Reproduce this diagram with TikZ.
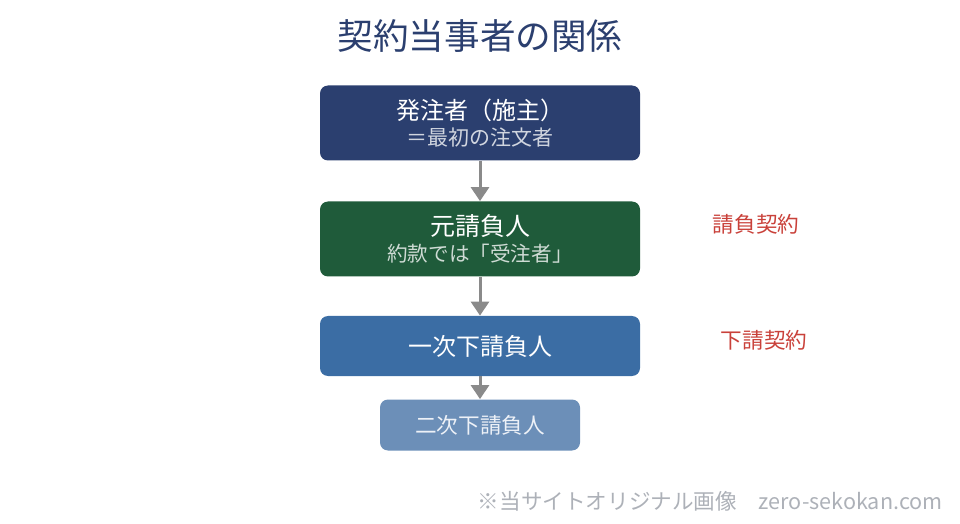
\documentclass[tikz,border=0pt]{standalone}
\usepackage{fontspec}
\setmainfont{Noto Sans CJK JP}
\usetikzlibrary{arrows.meta,positioning}

\definecolor{navy}{HTML}{2B3F6F}
\definecolor{forest}{HTML}{1F5B3A}
\definecolor{steel}{HTML}{3B6DA4}
\definecolor{pale}{HTML}{6C8FB8}
\definecolor{flow}{HTML}{8A8A8A}
\definecolor{contract}{HTML}{C9413A}
\definecolor{credit}{HTML}{ADB1B8}

\begin{document}
\begin{tikzpicture}[x=0.5pt, y=-0.5pt,
    party/.style={rounded corners=4pt, minimum width=160pt, minimum height=37.5pt, align=center, text=white, inner sep=0pt},
    arr/.style={-{Triangle[length=7pt, width=9pt]}, line width=1.5pt, draw=flow},
    lbl/.style={font=\fontsize{10.8}{13}\selectfont, text=contract}
]
\useasboundingbox (0,0) rectangle (960,524);

\node[font=\fontsize{17.8}{21}\selectfont, text=navy] (title) at (480,36) {契約当事者の関係};

\node[party, fill=navy] (owner) at (480,123)
  {{\fontsize{12}{14}\selectfont 発注者（施主）}\\[1pt]
   {\color{white!78!navy}\fontsize{10.5}{12}\selectfont ＝最初の注文者}};
\node[party, fill=forest] (prime) at (480,239)
  {{\fontsize{12.5}{14}\selectfont 元請負人}\\[1pt]
   {\color{white!78!forest}\fontsize{10.3}{12}\selectfont 約款では「受注者」}};
\node[party, fill=steel, minimum height=30pt] (sub1) at (480,346)
  {\fontsize{12}{14}\selectfont 一次下請負人};
\node[party, fill=pale, minimum width=100pt, minimum height=25.5pt, text=white!88!pale] (sub2) at (480,425)
  {\fontsize{10.8}{13}\selectfont 二次下請負人};

\node[lbl] (ukeoi) at (756,224) {請負契約};
\node[lbl] (shitauke) at (764,340) {下請契約};

\draw[arr] (owner) -- (prime);
\draw[arr] (prime) -- (sub1);
\draw[arr] (sub1) -- (sub2);

\node[anchor=east, inner sep=0pt, font=\fontsize{10.8}{13}\selectfont, text=credit] (note) at (943,501) {※当サイトオリジナル画像\quad zero-sekokan.com};
\end{tikzpicture}
\end{document}
